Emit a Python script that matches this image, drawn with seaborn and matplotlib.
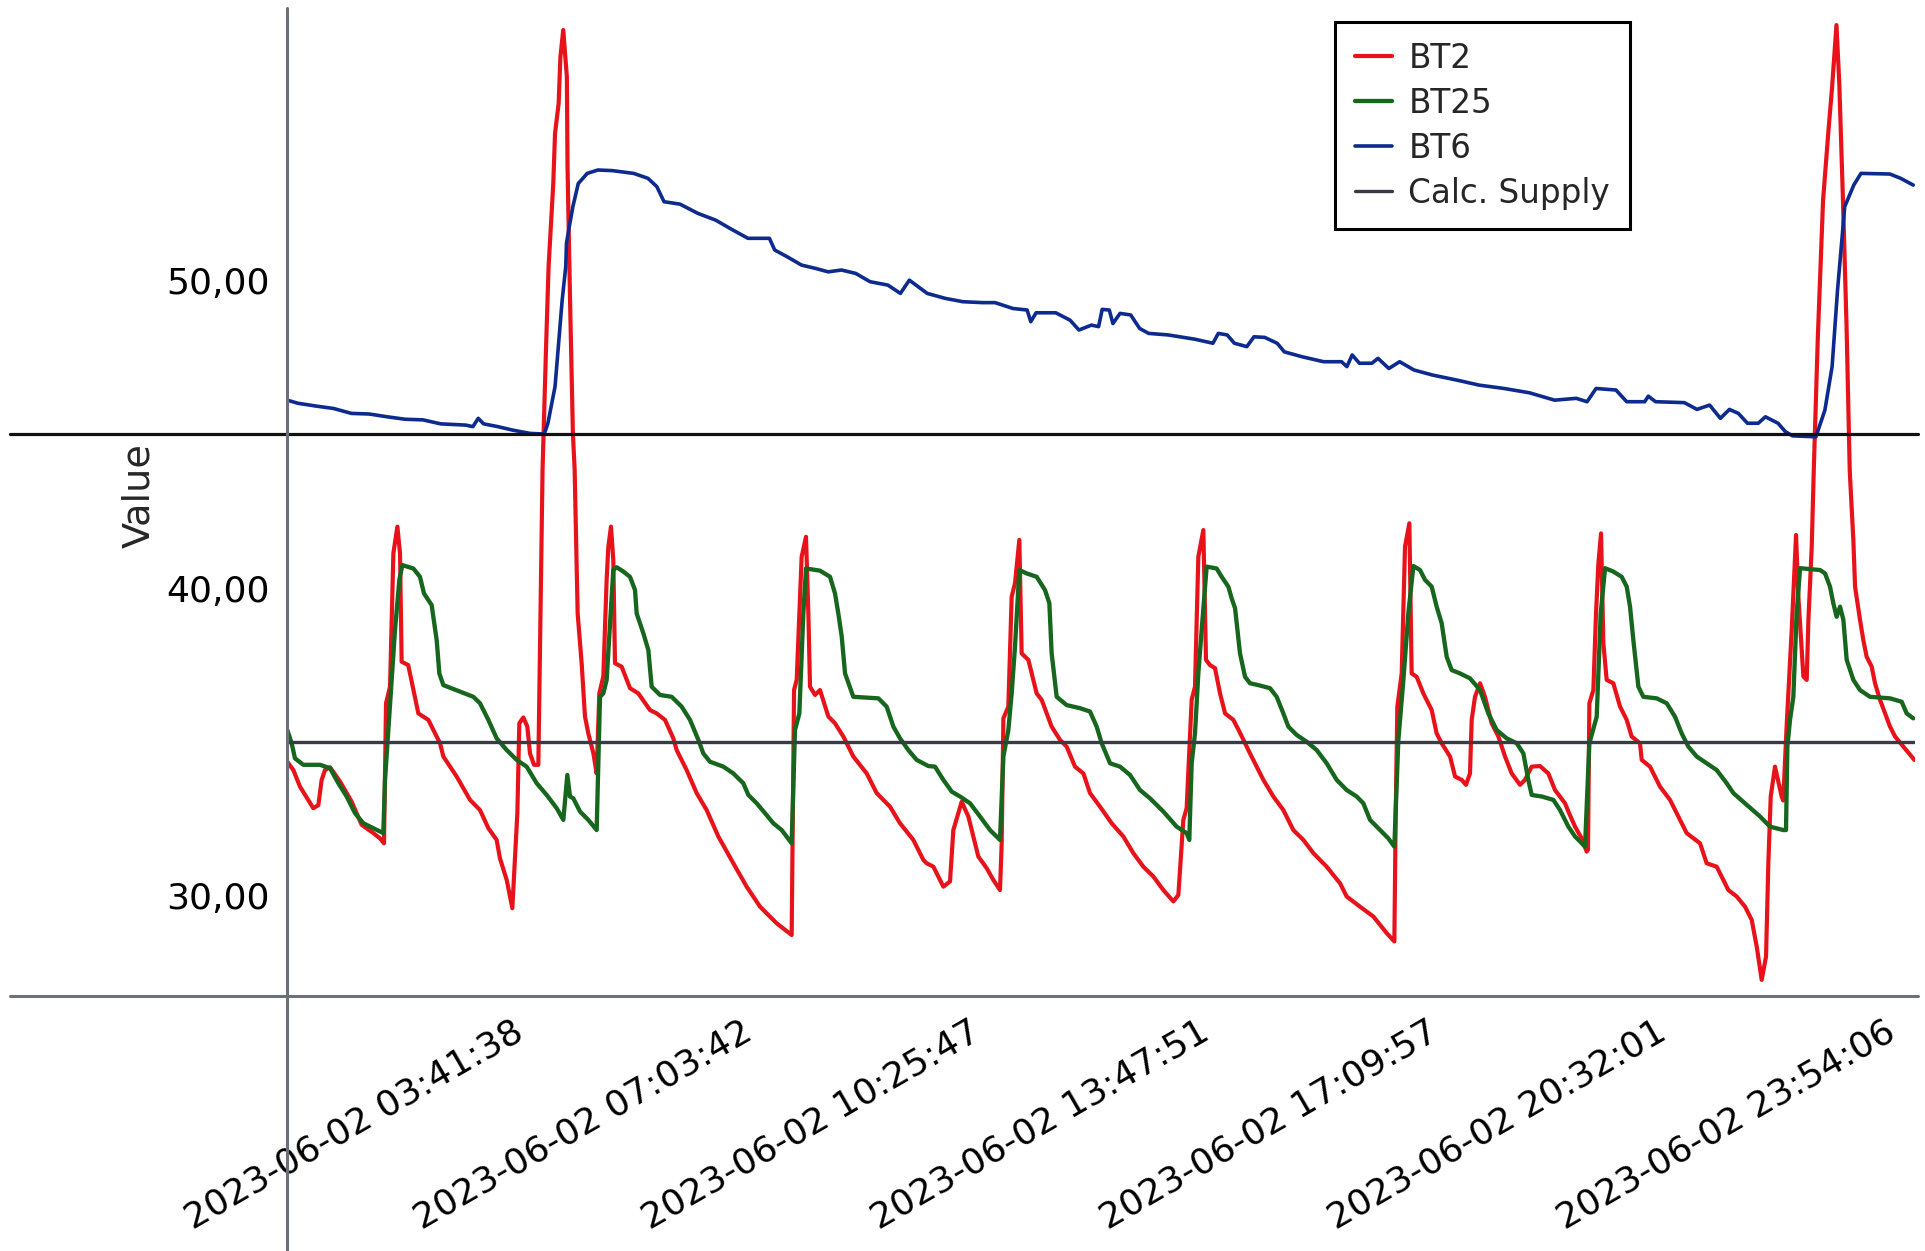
import numpy as np
import pandas as pd
import matplotlib.pyplot as plt
import matplotlib.ticker as mticker
import seaborn as sns

# (hours after 2023-06-02 00:00, value)
day = pd.Timestamp('2023-06-02')

bt2_points = [
    (0.389, 34.36), (0.478, 34.09), (0.576, 33.55), (0.772, 32.85), (0.846, 32.95), (0.895, 33.77),
    (0.944, 34.09), (1.018, 34.18), (1.165, 33.72), (1.337, 33.06), (1.484, 32.31), (1.656, 32.04),
    (1.754, 31.87), (1.813, 31.71), (1.843, 36.26), (1.902, 36.80), (1.951, 41.13), (2.010, 42.00),
    (2.049, 41.13), (2.073, 37.61), (2.170, 37.50), (2.319, 35.93), (2.466, 35.72), (2.638, 34.96),
    (2.687, 34.53), (2.883, 33.88), (3.080, 33.12), (3.227, 32.79), (3.350, 32.20), (3.472, 31.82),
    (3.521, 31.22), (3.620, 30.52), (3.703, 29.60), (3.777, 32.69), (3.806, 35.61), (3.865, 35.80),
    (3.924, 35.50), (3.963, 34.63), (4.022, 34.26), (4.086, 34.26), (4.148, 43.84), (4.200, 47.85),
    (4.237, 50.45), (4.306, 53.15), (4.332, 54.78), (4.385, 55.75), (4.411, 57.27), (4.453, 58.14),
    (4.506, 56.62), (4.516, 53.70), (4.553, 49.36), (4.595, 45.03), (4.621, 43.84), (4.665, 39.18),
    (4.724, 37.56), (4.773, 35.83), (4.822, 35.28), (4.896, 34.64), (4.945, 33.98), (4.984, 36.58),
    (5.043, 37.13), (5.092, 40.27), (5.117, 41.35), (5.156, 42.00), (5.190, 40.92), (5.215, 37.56),
    (5.313, 37.45), (5.436, 36.75), (5.559, 36.58), (5.730, 36.04), (5.829, 35.93), (5.952, 35.72),
    (6.074, 35.12), (6.123, 34.74), (6.270, 34.09), (6.418, 33.34), (6.565, 32.79), (6.737, 31.93),
    (6.958, 31.06), (7.154, 30.30), (7.351, 29.65), (7.596, 29.11), (7.817, 28.73), (7.852, 36.69),
    (7.891, 37.02), (7.964, 41.02), (8.028, 41.67), (8.063, 39.18), (8.087, 36.80), (8.161, 36.53),
    (8.234, 36.69), (8.357, 35.83), (8.455, 35.61), (8.578, 35.18), (8.725, 34.53), (8.922, 33.98),
    (9.069, 33.34), (9.265, 32.90), (9.413, 32.36), (9.609, 31.82), (9.756, 31.17), (9.805, 31.06),
    (9.904, 30.95), (9.977, 30.63), (10.051, 30.30), (10.149, 30.47), (10.198, 32.14), (10.272, 32.69),
    (10.321, 33.06), (10.419, 32.58), (10.566, 31.28), (10.689, 30.90), (10.787, 30.52), (10.885, 30.19),
    (10.910, 31.71), (10.935, 35.77), (11.008, 36.15), (11.057, 39.72), (11.106, 40.16), (11.170, 41.57),
    (11.204, 37.88), (11.303, 37.67), (11.425, 36.58), (11.499, 36.37), (11.646, 35.50), (11.769, 35.07),
    (11.867, 34.85), (11.990, 34.20), (12.113, 33.98), (12.211, 33.34), (12.358, 32.90), (12.530, 32.36),
    (12.702, 31.93), (12.849, 31.39), (12.996, 30.95), (13.144, 30.63), (13.291, 30.19), (13.438, 29.82),
    (13.512, 30.03), (13.585, 32.47), (13.634, 32.85), (13.708, 36.37), (13.757, 36.80), (13.806, 41.02),
    (13.880, 41.89), (13.919, 37.67), (13.978, 37.50), (14.052, 37.40), (14.126, 36.58), (14.200, 35.93),
    (14.322, 35.72), (14.420, 35.30), (14.567, 34.63), (14.665, 34.20), (14.764, 33.77), (14.911, 33.23),
    (15.058, 32.79), (15.205, 32.14), (15.353, 31.82), (15.500, 31.39), (15.696, 30.95), (15.893, 30.41),
    (15.991, 29.98), (16.187, 29.65), (16.384, 29.33), (16.580, 28.79), (16.693, 28.52), (16.713, 32.69),
    (16.737, 36.15), (16.801, 37.23), (16.850, 41.35), (16.914, 42.11), (16.948, 37.23), (17.022, 37.12),
    (17.120, 36.58), (17.243, 36.04), (17.316, 35.28), (17.390, 34.96), (17.513, 34.53), (17.587, 33.88),
    (17.685, 33.77), (17.748, 33.61), (17.807, 33.98), (17.832, 35.72), (17.881, 36.47), (17.955, 36.91),
    (18.028, 36.47), (18.126, 35.61), (18.225, 35.18), (18.323, 34.53), (18.421, 33.98), (18.544, 33.61),
    (18.617, 33.77), (18.715, 34.20), (18.838, 34.22), (18.961, 33.98), (19.059, 33.44), (19.207, 33.01),
    (19.256, 32.74), (19.354, 32.25), (19.452, 31.87), (19.526, 31.44), (19.545, 31.50), (19.565, 36.26),
    (19.624, 36.69), (19.663, 39.18), (19.698, 40.81), (19.737, 41.78), (19.771, 38.21), (19.820, 37.02),
    (19.918, 36.91), (20.017, 36.15), (20.115, 35.72), (20.188, 35.18), (20.311, 34.96), (20.336, 34.42),
    (20.458, 34.20), (20.606, 33.55), (20.753, 33.12), (20.876, 32.58), (20.998, 32.04), (21.195, 31.71),
    (21.293, 31.06), (21.440, 30.95), (21.612, 30.19), (21.735, 29.98), (21.858, 29.65), (21.956, 29.22),
    (22.030, 28.35), (22.103, 27.27), (22.167, 28.03), (22.201, 31.06), (22.236, 33.23), (22.299, 34.20),
    (22.397, 33.23), (22.420, 33.10), (22.470, 35.50), (22.545, 38.64), (22.609, 41.73), (22.643, 39.72),
    (22.717, 37.13), (22.766, 37.02), (22.791, 38.97), (22.840, 41.35), (22.870, 43.84), (22.930, 48.17),
    (23.007, 52.61), (23.087, 54.89), (23.140, 56.29), (23.204, 58.30), (23.246, 56.40), (23.300, 52.61),
    (23.353, 48.50), (23.400, 43.80), (23.453, 41.56), (23.478, 40.05), (23.551, 38.97), (23.600, 38.31),
    (23.649, 37.77), (23.723, 37.45), (23.772, 36.91), (23.846, 36.37), (23.920, 35.93), (23.993, 35.50),
    (24.067, 35.18), (24.190, 34.85), (24.351, 34.42),
]

bt25_points = [
    (0.389, 35.39), (0.453, 34.96), (0.502, 34.47), (0.625, 34.26), (0.871, 34.26), (1.018, 34.15),
    (1.141, 33.66), (1.263, 33.23), (1.386, 32.69), (1.509, 32.36), (1.656, 32.20), (1.803, 32.04),
    (1.828, 33.77), (1.877, 35.39), (1.926, 37.02), (1.975, 38.64), (2.039, 40.27), (2.083, 40.75),
    (2.245, 40.64), (2.343, 40.37), (2.402, 39.83), (2.515, 39.45), (2.589, 38.31), (2.628, 37.23),
    (2.687, 36.85), (2.932, 36.64), (3.129, 36.47), (3.227, 36.26), (3.350, 35.72), (3.472, 35.12),
    (3.620, 34.74), (3.767, 34.42), (3.914, 34.20), (4.062, 33.66), (4.209, 33.28), (4.356, 32.85),
    (4.454, 32.47), (4.513, 33.93), (4.552, 33.23), (4.601, 33.17), (4.700, 32.74), (4.822, 32.47),
    (4.945, 32.14), (4.994, 36.47), (5.043, 36.58), (5.092, 37.02), (5.190, 40.59), (5.240, 40.68),
    (5.338, 40.54), (5.436, 40.37), (5.510, 39.94), (5.534, 39.18), (5.633, 38.53), (5.706, 37.99),
    (5.755, 36.80), (5.878, 36.53), (6.050, 36.47), (6.197, 36.15), (6.320, 35.72), (6.443, 35.07),
    (6.516, 34.63), (6.614, 34.36), (6.811, 34.20), (6.958, 33.98), (7.105, 33.66), (7.179, 33.28),
    (7.302, 33.01), (7.424, 32.69), (7.547, 32.36), (7.670, 32.14), (7.817, 31.71), (7.866, 35.39),
    (7.930, 35.93), (7.989, 39.18), (8.028, 40.64), (8.234, 40.57), (8.382, 40.37), (8.455, 39.83),
    (8.504, 39.18), (8.554, 38.43), (8.603, 37.23), (8.725, 36.47), (9.094, 36.42), (9.216, 36.15),
    (9.315, 35.50), (9.413, 35.12), (9.535, 34.74), (9.658, 34.42), (9.830, 34.22), (9.928, 34.20),
    (10.051, 33.77), (10.174, 33.39), (10.296, 33.23), (10.444, 33.01), (10.591, 32.58), (10.738, 32.14),
    (10.885, 31.82), (10.935, 34.53), (11.008, 35.39), (11.057, 36.58), (11.106, 38.10), (11.170, 40.59),
    (11.278, 40.48), (11.425, 40.37), (11.548, 39.94), (11.612, 39.51), (11.646, 37.88), (11.720, 36.47),
    (11.867, 36.20), (12.064, 36.10), (12.211, 35.99), (12.309, 35.50), (12.383, 34.96), (12.506, 34.31),
    (12.653, 34.20), (12.800, 33.93), (12.947, 33.44), (13.095, 33.17), (13.291, 32.74), (13.487, 32.25),
    (13.634, 32.04), (13.673, 31.82), (13.708, 34.31), (13.757, 35.28), (13.806, 37.23), (13.855, 38.64),
    (13.929, 40.70), (14.076, 40.64), (14.150, 40.37), (14.248, 40.05), (14.297, 39.67), (14.347, 39.35),
    (14.420, 37.88), (14.494, 37.12), (14.567, 36.91), (14.690, 36.85), (14.862, 36.75), (14.960, 36.47),
    (15.058, 35.93), (15.132, 35.50), (15.255, 35.23), (15.402, 35.01), (15.549, 34.74), (15.696, 34.31),
    (15.844, 33.77), (15.991, 33.44), (16.138, 33.23), (16.236, 33.01), (16.335, 32.47), (16.482, 32.14),
    (16.604, 31.87), (16.693, 31.60), (16.752, 35.07), (16.826, 37.02), (16.899, 39.18), (16.973, 40.72),
    (17.071, 40.59), (17.145, 40.27), (17.243, 40.05), (17.316, 39.40), (17.390, 38.86), (17.464, 37.77),
    (17.537, 37.34), (17.660, 37.23), (17.807, 37.07), (17.955, 36.69), (18.077, 35.93), (18.200, 35.39),
    (18.347, 35.12), (18.495, 34.96), (18.593, 34.63), (18.666, 33.77), (18.716, 33.28), (18.863, 33.23),
    (19.035, 33.12), (19.133, 32.79), (19.256, 32.25), (19.354, 31.93), (19.427, 31.77), (19.501, 31.60),
    (19.565, 34.96), (19.673, 35.82), (19.732, 39.18), (19.796, 40.65), (19.918, 40.54), (20.041, 40.37),
    (20.115, 40.05), (20.164, 39.40), (20.213, 38.31), (20.287, 36.80), (20.360, 36.47), (20.557, 36.42),
    (20.704, 36.26), (20.827, 35.82), (20.925, 35.28), (21.023, 34.85), (21.146, 34.53), (21.293, 34.31),
    (21.440, 34.09), (21.588, 33.66), (21.686, 33.34), (21.882, 32.96), (22.079, 32.58), (22.226, 32.25),
    (22.422, 32.14), (22.461, 32.14), (22.481, 34.85), (22.520, 35.72), (22.569, 36.47), (22.618, 39.18),
    (22.668, 40.65), (22.962, 40.59), (23.036, 40.48), (23.109, 40.05), (23.158, 39.51), (23.207, 39.07),
    (23.257, 39.40), (23.306, 38.97), (23.355, 37.67), (23.453, 37.02), (23.551, 36.69), (23.698, 36.47),
    (23.993, 36.42), (24.165, 36.31), (24.238, 35.93), (24.336, 35.77),
]

bt6_points = [
    (0.389, 46.11), (0.544, 46.01), (0.808, 45.92), (1.070, 45.84), (1.334, 45.68), (1.597, 45.66),
    (1.860, 45.57), (2.123, 45.49), (2.386, 45.47), (2.649, 45.34), (3.017, 45.30), (3.122, 45.25),
    (3.201, 45.52), (3.280, 45.34), (3.490, 45.25), (3.701, 45.14), (3.964, 45.03), (4.174, 45.01),
    (4.227, 45.36), (4.332, 46.55), (4.385, 47.95), (4.437, 49.36), (4.490, 50.45), (4.500, 51.20),
    (4.542, 51.75), (4.595, 52.40), (4.674, 53.15), (4.806, 53.48), (4.963, 53.59), (5.174, 53.57),
    (5.490, 53.48), (5.700, 53.32), (5.831, 53.05), (5.937, 52.56), (6.173, 52.48), (6.436, 52.18),
    (6.699, 51.96), (6.910, 51.69), (7.173, 51.37), (7.489, 51.37), (7.567, 50.99), (7.751, 50.77),
    (7.962, 50.50), (8.172, 50.39), (8.356, 50.28), (8.550, 50.34), (8.760, 50.23), (8.971, 49.96),
    (9.234, 49.85), (9.418, 49.58), (9.550, 50.01), (9.813, 49.58), (10.075, 49.42), (10.338, 49.31),
    (10.628, 49.28), (10.812, 49.28), (11.075, 49.09), (11.285, 49.04), (11.338, 48.66), (11.417, 48.95),
    (11.706, 48.95), (11.917, 48.71), (12.048, 48.39), (12.232, 48.55), (12.337, 48.50), (12.390, 49.06),
    (12.495, 49.04), (12.548, 48.60), (12.653, 48.93), (12.810, 48.88), (12.942, 48.44), (13.074, 48.28),
    (13.363, 48.23), (13.758, 48.09), (14.021, 47.96), (14.100, 48.28), (14.231, 48.23), (14.337, 47.96),
    (14.520, 47.85), (14.626, 48.17), (14.784, 48.15), (14.967, 47.96), (15.073, 47.68), (15.336, 47.52),
    (15.651, 47.36), (15.915, 47.36), (15.994, 47.20), (16.072, 47.58), (16.178, 47.31), (16.362, 47.31),
    (16.452, 47.47), (16.612, 47.14), (16.771, 47.36), (16.983, 47.09), (17.249, 46.93), (17.620, 46.76),
    (17.939, 46.60), (18.310, 46.49), (18.682, 46.35), (19.053, 46.11), (19.372, 46.17), (19.531, 46.06),
    (19.664, 46.49), (19.956, 46.44), (20.115, 46.06), (20.380, 46.06), (20.433, 46.24), (20.540, 46.06),
    (20.964, 46.03), (21.150, 45.81), (21.336, 45.95), (21.495, 45.52), (21.628, 45.81), (21.760, 45.68),
    (21.893, 45.36), (22.052, 45.36), (22.158, 45.57), (22.344, 45.36), (22.450, 45.09), (22.557, 44.95),
    (22.902, 44.92), (23.034, 45.79), (23.140, 47.20), (23.220, 49.69), (23.326, 52.40), (23.459, 53.10),
    (23.565, 53.48), (23.990, 53.46), (24.149, 53.32), (24.335, 53.10),
]

calc_supply_points = [(0.389, 35.0), (24.361, 35.0)]
drawn_line = 45.0   # ruler line drawn on the printout

x_range_h = (0.389, 24.361)
y_range = (26.76, 58.79)
y_ticks = [30, 40, 50]
x_tick_labels = ['2023-06-02 03:41:38', '2023-06-02 07:03:42', '2023-06-02 10:25:47',
                 '2023-06-02 13:47:51', '2023-06-02 17:09:57', '2023-06-02 20:32:01',
                 '2023-06-02 23:54:06']


def to_time(hours):
    return day + pd.to_timedelta(np.asarray(hours), unit='h')


sns.set_style('white')
plt.rcParams['font.family'] = ['DejaVu Sans']

fig = plt.figure(figsize=(19.25, 12.51), dpi=100)
ax = fig.add_axes([0.14925, 0.20416, 0.84556, 0.78785])

grey = '#6c7179'
series = [
    ('BT2', bt2_points, '#e8121a', 3.0),
    ('BT25', bt25_points, '#17661d', 3.1),
    ('BT6', bt6_points, '#0d2a8f', 2.6),
    ('Calc. Supply', calc_supply_points, '#363b44', 2.4),
]
for name, pts, col, lw in series:
    hrs, vals = zip(*pts)
    sns.lineplot(x=to_time(hrs), y=list(vals), ax=ax, color=col, lw=lw,
                 label=name, estimator=None, sort=False)

ax.axhline(drawn_line, xmin=-0.1704, xmax=1.002, color='#111111', lw=2.3, clip_on=False)

ax.set_xlim(to_time(x_range_h[0]), to_time(x_range_h[1]))
ax.set_ylim(*y_range)

for s in ax.spines.values():
    s.set_visible(False)
# axis lines cross and run past each other, as in the print
ax.plot([-0.1704, 1.002], [0, 0], transform=ax.transAxes, color=grey, lw=2.2, clip_on=False)
ax.plot([0, 0], [-0.26, 1.002], transform=ax.transAxes, color=grey, lw=2.2, clip_on=False)

ax.set_yticks(y_ticks)
ax.yaxis.set_major_formatter(mticker.FuncFormatter(lambda v, p: f'{v:.2f}'.replace('.', ',')))
ax.set_xticks(pd.to_datetime(x_tick_labels))
ax.set_xticklabels(x_tick_labels, rotation=30, ha='right', va='top', rotation_mode='anchor')
ax.tick_params(axis='both', direction='out', length=11, width=1.8, color=grey,
               labelsize=26, labelcolor='black')
ax.tick_params(axis='y', pad=1.5)
ax.tick_params(axis='x', pad=2.5)

ax.set_xlabel('')
ax.set_ylabel('Value', fontsize=27.5)
ax.yaxis.set_label_coords(-0.080, 0.507)

leg = ax.legend(loc='upper left', bbox_to_anchor=(1335 / 1925, 1 - 22 / 1251),
                bbox_transform=fig.transFigure, fontsize=23.5, frameon=True, fancybox=False,
                edgecolor='black', framealpha=1, borderpad=0.6, labelspacing=0.37,
                handlelength=1.15, handletextpad=0.5, borderaxespad=0)
leg.get_frame().set_linewidth(2.2)

fig.savefig('out.png', dpi=100)
